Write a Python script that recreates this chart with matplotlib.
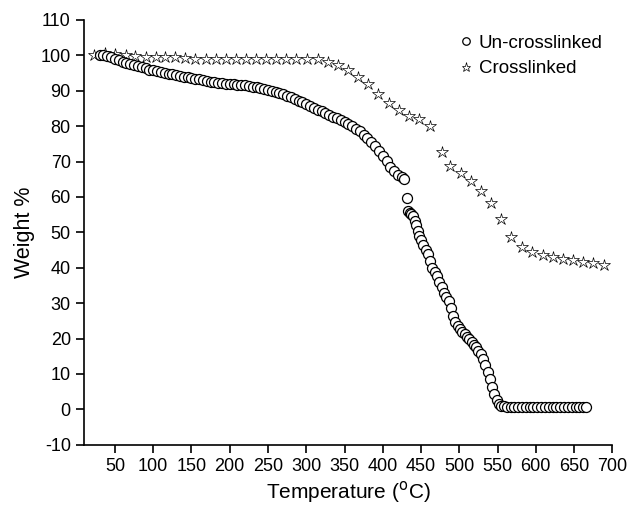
import matplotlib
matplotlib.use("Agg")
import matplotlib.pyplot as plt

plt.rcParams['font.family'] = ['Liberation Sans', 'DejaVu Sans']
plt.rcParams['axes.unicode_minus'] = False

# Un-crosslinked sample (dense TGA trace)
uncross_temp = [30, 35, 40, 45, 50, 55, 60, 65, 70, 75, 80, 85, 90, 95, 100,
                105, 110, 115, 120, 125, 130, 135, 140, 145, 150, 155, 160,
                165, 170, 175, 180, 185, 190, 195, 200, 205, 210, 215, 220,
                225, 230, 235, 240, 245, 250, 255, 260, 265, 270, 275, 280,
                285, 290, 295, 300, 305, 310, 315, 320, 325, 330, 335, 340,
                345, 350, 355, 360, 365, 370, 375, 380, 385, 390, 395, 400,
                405, 410, 415, 420, 425, 428,
                432, 433, 435, 437, 440, 442, 444, 446, 448, 450, 453, 456,
                459, 462, 465, 468, 471, 474, 477, 480, 483, 486, 489, 492,
                495, 498, 501, 504, 507, 510, 513, 516, 519, 522, 525, 528,
                531, 534, 537, 540, 543, 546, 549, 552, 555, 558,
                562, 567, 572, 577, 582, 587, 592, 597, 602, 607, 612, 617,
                622, 627, 632, 637, 642, 647, 652, 657, 662, 665]
uncross_weight = [100.0, 100.0, 99.8, 99.4, 99.0, 98.6, 98.2, 97.9, 97.5, 97.2,
                  96.9, 96.6, 96.3, 96.0, 95.8, 95.5, 95.3, 95.0, 94.8, 94.6,
                  94.4, 94.2, 94.0, 93.8, 93.6, 93.4, 93.2, 93.0, 92.8, 92.6,
                  92.5, 92.3, 92.1, 92.0, 91.9, 91.8, 91.7, 91.6, 91.5, 91.4,
                  91.2, 91.0, 90.8, 90.6, 90.3, 90.0, 89.7, 89.4, 89.0, 88.6,
                  88.2, 87.7, 87.2, 86.7, 86.2, 85.7, 85.2, 84.7, 84.2, 83.7,
                  83.2, 82.7, 82.2, 81.7, 81.2, 80.6, 80.0, 79.3, 78.5, 77.6,
                  76.6, 75.5, 74.3, 73.0, 71.6, 70.1, 68.6, 67.3, 66.3, 65.6,
                  65.1,
                  59.6, 56.0, 55.6, 55.3, 54.5, 53.3, 52.0, 50.5, 49.0, 47.8,
                  46.5, 45.0, 43.8, 42.0, 40.0, 38.8, 37.6, 36.0, 34.6, 33.0,
                  31.8, 30.5, 28.5, 26.3, 24.8, 23.5, 22.6, 21.8, 21.2, 20.5,
                  19.8, 19.0, 18.3, 17.6, 16.6, 15.5, 14.2, 12.4, 10.5, 8.5,
                  6.4, 4.3, 2.6, 1.5, 1.0, 0.8,
                  0.7, 0.7, 0.7, 0.7, 0.7, 0.7, 0.7, 0.7, 0.7, 0.7, 0.7, 0.7,
                  0.7, 0.7, 0.7, 0.7, 0.7, 0.7, 0.7, 0.7, 0.7, 0.7]

# Crosslinked sample
cross_temp = [23, 37, 50, 64, 76, 90, 103, 116, 129, 142, 155, 169, 182, 195,
              208, 221, 234, 247, 260, 273, 286, 301, 315, 329, 342, 355, 368,
              381, 394, 408, 421, 434, 448, 462, 477, 488, 502, 515, 528, 542,
              555, 568, 582, 595, 609, 622, 635, 648, 662, 675, 689]
cross_weight = [100.0, 100.8, 100.4, 100.1, 99.8, 99.6, 99.5, 99.5, 99.4, 99.2,
                99.0, 99.0, 99.0, 99.0, 99.0, 98.9, 98.9, 99.0, 99.1, 99.1,
                99.0, 99.0, 98.9, 98.1, 97.3, 95.8, 93.9, 91.8, 89.1, 86.6,
                84.6, 82.9, 82.0, 80.1, 72.8, 68.8, 66.7, 64.6, 61.8, 58.2,
                53.7, 48.8, 45.8, 44.4, 43.6, 43.0, 42.5, 42.2, 41.6, 41.3,
                40.8]

xticks = [50, 100, 150, 200, 250, 300, 350, 400, 450, 500, 550, 600, 650, 700]
yticks = [-10, 0, 10, 20, 30, 40, 50, 60, 70, 80, 90, 100, 110]

fig = plt.figure(figsize=(6.30, 5.07), dpi=100)
ax = fig.add_axes([0.1333, 0.1229, 0.8386, 0.8377])

ax.plot(cross_temp, cross_weight, linestyle='none', marker='*',
        markersize=9, markerfacecolor='white', markeredgecolor='black',
        markeredgewidth=0.5, label='Crosslinked', zorder=2)
ax.plot(uncross_temp, uncross_weight, linestyle='none', marker='o',
        markersize=7.2, markerfacecolor='white', markeredgecolor='black',
        markeredgewidth=0.9, label='Un-crosslinked', zorder=3)

ax.set_xlim(9.5, 700)
ax.set_ylim(-10, 110)
ax.set_xticks(xticks)
ax.set_yticks(yticks)
ax.tick_params(direction='out', length=6, width=1.2, labelsize=13)
for side in ['top', 'right']:
    ax.spines[side].set_visible(False)
for side in ['left', 'bottom']:
    ax.spines[side].set_linewidth(1.2)

ax.set_xlabel('Temperature ($^{\\mathrm{o}}$C)', fontsize=15, labelpad=3)
ax.set_ylabel('Weight %', fontsize=15.5, labelpad=4)

handles, labels = ax.get_legend_handles_labels()
leg = ax.legend(handles[::-1], labels[::-1], loc='upper left',
                bbox_to_anchor=(0.669, 1.005), frameon=False, fontsize=13.5,
                handletextpad=0.1, markerscale=0.75, labelspacing=0.45,
                handlelength=1.2)

fig.savefig('out.png', dpi=100)
